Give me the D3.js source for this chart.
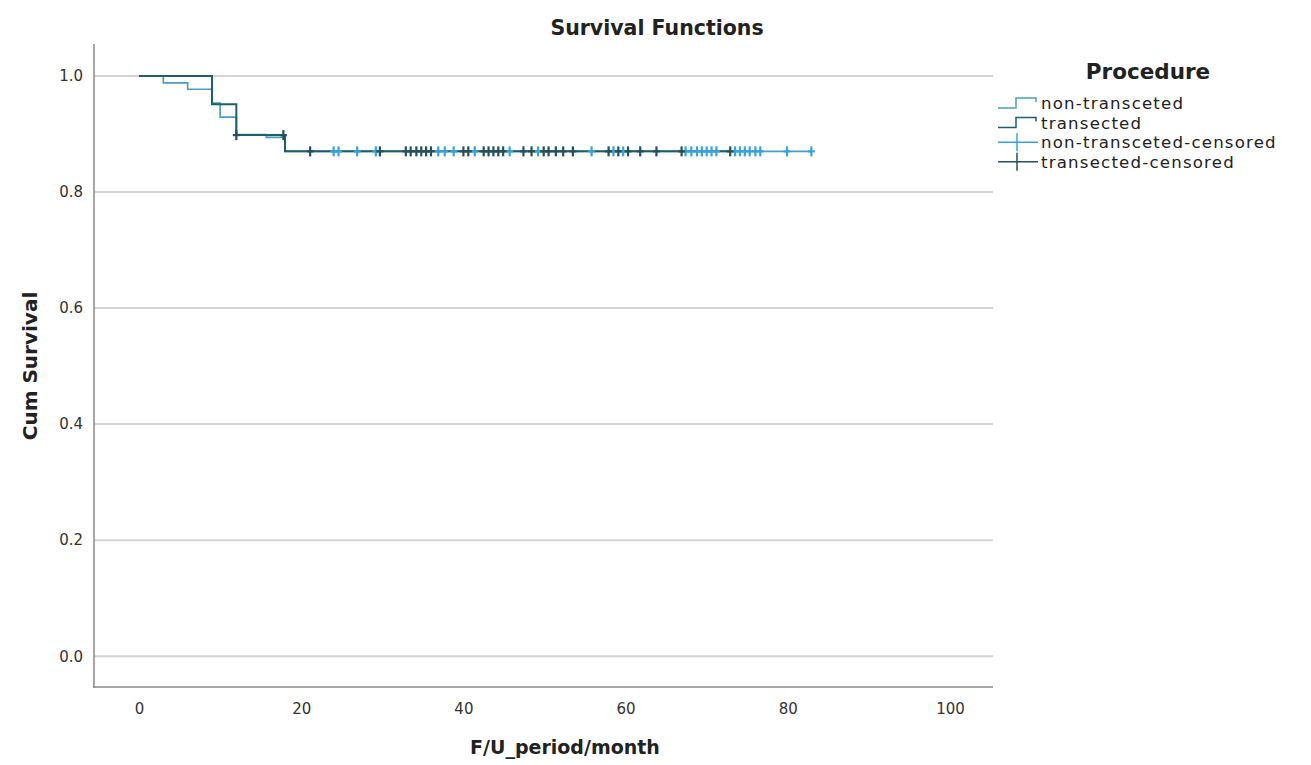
<!DOCTYPE html>
<html>
<head>
<meta charset="utf-8">
<script src="https://cdn.jsdelivr.net/npm/d3@7"></script>
<style>
  body { margin: 0; background: #fff; }
  text { font-family: "DejaVu Sans", sans-serif; fill: #222; }
</style>
</head>
<body>
<svg id="chart" width="1311" height="765"></svg>
<script>
// step curves (time in months, cumulative survival)
var nonTransTimes = [0, 3, 6, 9, 10, 12, 15.7, 18, 83];
var nonTransSurv  = [1, 0.988, 0.977, 0.953, 0.929, 0.899, 0.894, 0.870, 0.870];
var transTimes = [0, 9, 12, 18, 73];
var transSurv  = [1, 0.951, 0.898, 0.870, 0.870];

// censored times
var nonTransCens = [24.0, 24.6, 26.9, 29.2, 36.9, 37.7, 38.8, 41.4, 45.7, 49.2, 55.8, 58.5, 59.7,
  67.4, 68.1, 68.8, 69.4, 70.0, 70.6, 71.2, 73.5, 74.1, 74.7, 75.3, 76.0, 76.6, 79.9, 82.9];
var transCens = [12, 17.8, 21.1, 29.7, 32.9, 33.5, 34.2, 34.8, 35.4, 36.0, 40.0, 40.6, 42.5, 43.1,
  43.7, 44.3, 44.9, 47.4, 48.4, 49.9, 50.5, 51.4, 52.3, 53.5, 57.9, 59.1, 60.3, 61.8, 63.8, 66.9, 72.9];

var xTicks = [0, 20, 40, 60, 80, 100];
var yTicks = [0, 0.2, 0.4, 0.6, 0.8, 1.0];
var legendLabels = ["non-transceted", "transected", "non-transceted-censored", "transected-censored"];

var lightLine = "#4a9fc4", darkLine = "#1f5f6b";
var lightCens = "#3aa2e0", darkCens = "#24515c";

var svg = d3.select("#chart");

var x = d3.scaleLinear().domain([-5.55, 105.3]).range([94, 993]);
var y = d3.scaleLinear().domain([-0.053, 1.055]).range([687, 44]);

// gridlines
svg.append("g")
  .selectAll("line")
  .data(yTicks)
  .enter()
  .append("line")
  .attr("x1", 94).attr("x2", 993)
  .attr("y1", function(d) { return y(d); })
  .attr("y2", function(d) { return y(d); })
  .style("stroke", "#d3d3d3")
  .style("stroke-width", 2);

// axes
var xAxis = svg.append("g")
  .attr("transform", "translate(0,687)")
  .call(d3.axisBottom(x).tickValues(xTicks).tickSize(0).tickPadding(16));
var yAxis = svg.append("g")
  .attr("transform", "translate(94,0)")
  .call(d3.axisLeft(y).tickValues(yTicks).tickSize(0).tickPadding(11).tickFormat(d3.format(".1f")));
[xAxis, yAxis].forEach(function(g) {
  g.select(".domain").remove();
  g.selectAll("text").style("font-size", "15px").style("fill", "#333")
    .style("font-family", "DejaVu Sans, sans-serif");
});

svg.append("line").attr("x1", 94).attr("x2", 94).attr("y1", 44).attr("y2", 688)
  .style("stroke", "#8a8a8a").style("stroke-width", 1.5);
svg.append("line").attr("x1", 93).attr("x2", 993).attr("y1", 687).attr("y2", 687)
  .style("stroke", "#8a8a8a").style("stroke-width", 1.5);

// step lines
var step = d3.line()
  .x(function(d) { return x(d[0]); })
  .y(function(d) { return y(d[1]); })
  .curve(d3.curveStepAfter);

svg.append("path")
  .attr("d", step(d3.zip(nonTransTimes, nonTransSurv)))
  .style("fill", "none").style("stroke", lightLine).style("stroke-width", 1.7);
svg.append("path")
  .attr("d", step(d3.zip(transTimes, transSurv)))
  .style("fill", "none").style("stroke", darkLine).style("stroke-width", 2);

// survival value at a given time for a step function
function survAt(times, surv, t) {
  var i = d3.bisectRight(times, t) - 1;
  return surv[Math.max(0, i)];
}

function drawCross(g, cx, cy, color) {
  g.append("line").attr("x1", cx).attr("x2", cx).attr("y1", cy - 5).attr("y2", cy + 5)
    .style("stroke", color).style("stroke-width", 2.2);
  g.append("line").attr("x1", cx - 3.5).attr("x2", cx + 3.5).attr("y1", cy).attr("y2", cy)
    .style("stroke", color).style("stroke-width", 2.2);
}

var cens = svg.append("g");
nonTransCens.forEach(function(t) {
  drawCross(cens, x(t), y(survAt(nonTransTimes, nonTransSurv, t)), lightCens);
});
transCens.forEach(function(t) {
  drawCross(cens, x(t), y(survAt(transTimes, transSurv, t)), darkCens);
});

// titles
svg.append("text").attr("x", 657).attr("y", 35).attr("text-anchor", "middle")
  .style("font-size", "20.5px").style("font-weight", "bold").text("Survival Functions");
svg.append("text").attr("x", 565).attr("y", 754).attr("text-anchor", "middle")
  .style("font-size", "19px").style("font-weight", "bold").text("F/U_period/month");
svg.append("text").attr("transform", "translate(37,366) rotate(-90)").attr("text-anchor", "middle")
  .style("font-size", "20px").style("font-weight", "bold").text("Cum Survival");

// legend
var legend = svg.append("g");
legend.append("text").attr("x", 1148).attr("y", 79).attr("text-anchor", "middle")
  .style("font-size", "21.5px").style("font-weight", "bold").text("Procedure");

var legendColors = [lightLine, darkLine, lightCens, darkCens];
legendLabels.forEach(function(lab, i) {
  var cy = 103 + i * 19.6;
  if (i < 2) {
    legend.append("path")
      .attr("d", "M998," + (cy + 5) + "H1016V" + (cy - 5) + "H1036V" + (cy - 1))
      .style("fill", "none").style("stroke", legendColors[i]).style("stroke-width", 1.5);
  } else {
    legend.append("line").attr("x1", 998).attr("x2", 1038).attr("y1", cy).attr("y2", cy)
      .style("stroke", legendColors[i]).style("stroke-width", 1.5);
    legend.append("line").attr("x1", 1017).attr("x2", 1017).attr("y1", cy - 9).attr("y2", cy + 9)
      .style("stroke", legendColors[i]).style("stroke-width", 1.5);
  }
  legend.append("text").attr("x", 1041).attr("y", cy + 6)
    .style("font-size", "16.6px").style("letter-spacing", "1.2px").text(lab);
});
</script>
</body>
</html>
